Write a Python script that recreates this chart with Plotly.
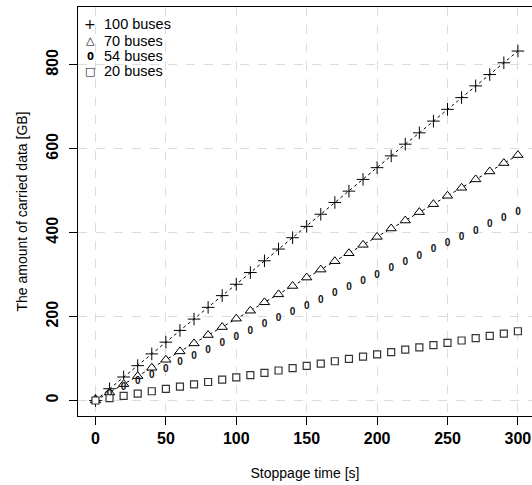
import plotly.graph_objects as go

# Stoppage time samples [s]
stoppage_time = [0, 10, 20, 30, 40, 50, 60, 70, 80, 90, 100, 110, 120, 130, 140, 150,
                 160, 170, 180, 190, 200, 210, 220, 230, 240, 250, 260, 270, 280, 290, 300]

# Carried data [GB] per fleet size
buses_100 = [0, 28, 56, 83, 111, 139, 167, 194, 222, 250, 277, 305, 333, 361, 388, 415,
             444, 472, 499, 527, 555, 583, 611, 638, 666, 694, 722, 750, 777, 805, 833]
buses_70 = [0, 19, 39, 58, 78, 97, 117, 136, 156, 175, 195, 214, 234, 253, 273, 293,
            312, 332, 351, 371, 390, 410, 429, 449, 468, 488, 507, 527, 546, 566, 585]
buses_54 = [0, 15, 30, 45, 60, 75, 90, 105, 120, 135, 150, 165, 180, 195, 210, 224,
            239, 254, 269, 284, 298, 314, 329, 344, 359, 374, 389, 404, 419, 434, 449]
buses_20 = [0, 5.5, 11, 16.5, 22, 27.5, 33, 38.5, 44, 49.5, 55, 60.5, 66, 71.5, 77, 82.5,
            88, 93.5, 99, 104.5, 110, 115.5, 121, 126.5, 132, 137.5, 143, 148.5, 154, 159.5, 165]

series_names = ["100 buses", "70 buses", "54 buses", "20 buses"]
x_ticks = [0, 50, 100, 150, 200, 250, 300]
y_ticks = [0, 200, 400, 600, 800]

FONT = "Liberation Sans, Arial, Helvetica, sans-serif"
dotted = dict(color="black", width=1, dash="dot")

fig = go.Figure()

fig.add_trace(go.Scatter(
    x=stoppage_time, y=buses_100, mode="lines+markers", name=series_names[0],
    line=dotted,
    marker=dict(symbol="cross-thin-open", size=9, line=dict(color="black", width=1)),
))
fig.add_trace(go.Scatter(
    x=stoppage_time, y=buses_70, mode="lines+markers", name=series_names[1],
    line=dotted,
    marker=dict(symbol="triangle-up", size=9, color="white",
                line=dict(color="black", width=1)),
))
fig.add_trace(go.Scatter(
    x=stoppage_time, y=buses_54, mode="text", name=series_names[2],
    text=["0"] * len(stoppage_time), textposition="middle center",
    textfont=dict(family=FONT, size=10, color="#111111", weight="bold"),
))
fig.add_trace(go.Scatter(
    x=stoppage_time, y=buses_20, mode="markers", name=series_names[3],
    marker=dict(symbol="square", size=7, color="white",
                line=dict(color="#333333", width=1.2)),
))

# Legend drawn as plain symbols and labels in the top-left corner
PLOT_L, PLOT_R, PLOT_T, PLOT_B = 78, 532, 7, 416
def px_x(px):
    return (px - PLOT_L) / (PLOT_R - PLOT_L)
def px_y(py):
    return (PLOT_B - py) / (PLOT_B - PLOT_T)

legend_symbols = ["+", "\u25B3", "<b>0</b>", "\u25A1"]
legend_sizes = [14, 11, 10, 11]
legend_rows = [24.5, 40.5, 56, 71.5]
for sym, size, yc, lab in zip(legend_symbols, legend_sizes, legend_rows, series_names):
    fig.add_annotation(xref="paper", yref="paper", x=px_x(90), y=px_y(yc),
                       text=sym, showarrow=False, xanchor="center", yanchor="middle",
                       font=dict(family="DejaVu Sans, " + FONT, size=size, color="black"))
    fig.add_annotation(xref="paper", yref="paper", x=px_x(101.5), y=px_y(yc),
                       text=lab, showarrow=False, xanchor="left", yanchor="middle",
                       font=dict(family=FONT, size=14.5, color="black"))

grid = dict(showgrid=True, gridcolor="#dcdcdc", gridwidth=1, griddash="dash")

fig.update_xaxes(
    range=[-12.4, 310], tickvals=x_ticks, ticks="outside", ticklen=8, tickwidth=1,
    tickcolor="black", showline=True, linecolor="black", linewidth=1, mirror=True,
    zeroline=False, tickfont=dict(family=FONT, size=16, color="black", weight="bold"),
    title=dict(text="Stoppage time [s]", font=dict(family=FONT, size=14, color="black"),
               standoff=21),
    **grid,
)
fig.update_yaxes(
    range=[-37, 938], tickvals=y_ticks, ticks="outside", ticklen=8, tickwidth=1,
    tickcolor="black", showline=True, linecolor="black", linewidth=1, mirror=True,
    zeroline=False, tickangle=-90, ticklabelstandoff=5,
    tickfont=dict(family=FONT, size=16, color="black", weight="bold"),
    title=dict(text="The amount of carried data [GB]",
               font=dict(family=FONT, size=14, color="black"), standoff=12),
    **grid,
)

fig.update_layout(
    width=532, height=485,
    margin=dict(l=78, r=0, t=7, b=69, pad=0),
    plot_bgcolor="white", paper_bgcolor="white",
    showlegend=False,
)

fig.write_html("out.html")
